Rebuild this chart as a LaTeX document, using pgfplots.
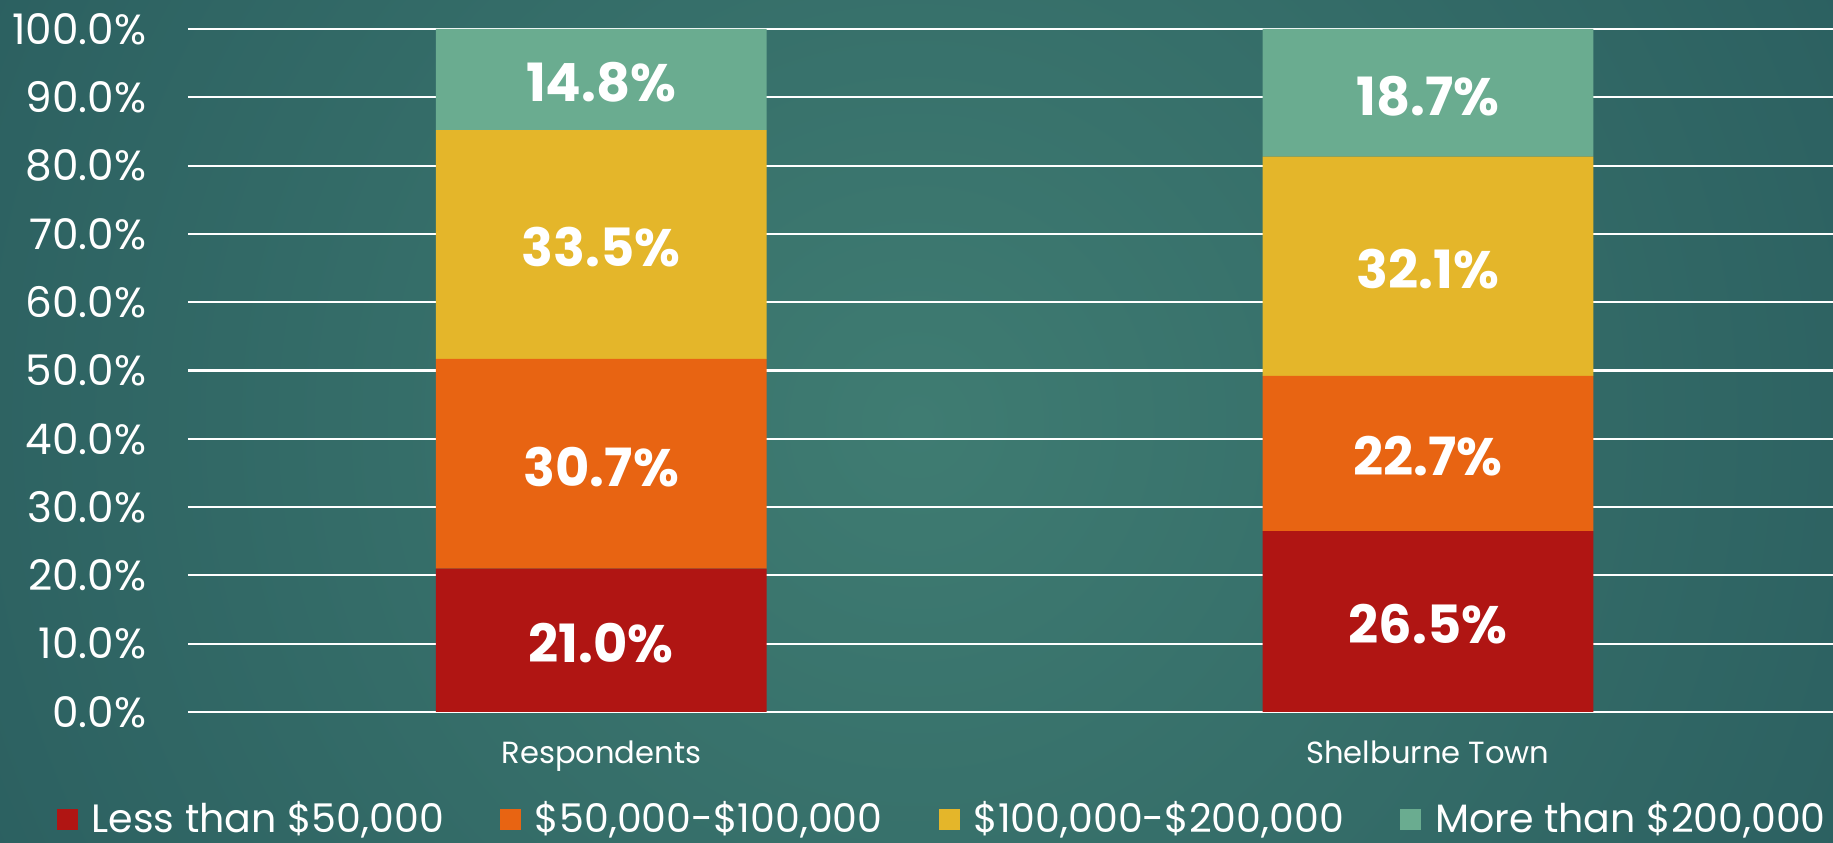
\documentclass[border=0pt]{standalone}
\usepackage{fontspec}
\setmainfont{Poppins}
\usepackage{pgfplots}
\usepackage{pgfplotstable}
\pgfplotsset{compat=1.18}

\definecolor{bgcentre}{HTML}{3F7C72}
\definecolor{bgedge}{HTML}{1E4C54}
\definecolor{lowinc}{HTML}{B01513}
\definecolor{midinc}{HTML}{E86412}
\definecolor{upinc}{HTML}{E4B62A}
\definecolor{topinc}{HTML}{6AAC90}

% income shares (%), one row per group
\pgfplotstableread{
pos lt50 m50 m100 gt200
0 21.0 30.7 33.5 14.8
1 26.5 22.7 32.1 18.7
}\income

\pgfplotsset{
  segment/.style={
    fill=#1, draw=none,
    legend image code/.code={\fill[fill=#1] (0mm,-1.05mm) rectangle (2.1mm,1.05mm); \path (2.8mm,0mm);}
  }
}

\begin{document}
\begin{tikzpicture}
\begin{scope}
  \clip (0,0) rectangle (183.3mm,84.3mm);
  \shade[inner color=bgcentre, outer color=bgedge] (-83.4mm,-133mm) rectangle (266.6mm,217mm);
\end{scope}
\useasboundingbox (0,0) rectangle (183.3mm,84.3mm);
\begin{axis}[
  ybar stacked,
  scale only axis,
  anchor=south west,
  at={(18.8mm,13.1mm)},
  width=164.5mm,
  height=68.3mm,
  xmin=-0.5, xmax=1.49,
  ymin=0, ymax=100,
  enlargelimits=false,
  bar width=0.4,
  axis line style={draw=none},
  major tick length=0pt,
  ymajorgrids=true,
  grid style={white, line width=0.6pt},
  xtick={0,1},
  xticklabels={Respondents, Shelburne Town},
  ytick={0,10,...,100},
  yticklabels={0.0\%,10.0\%,20.0\%,30.0\%,40.0\%,50.0\%,60.0\%,70.0\%,80.0\%,90.0\%,100.0\%},
  yticklabel style={font=\fontsize{12}{12}\selectfont, text=white, anchor=east, inner sep=0pt, xshift=-4.1mm},
  xticklabel style={font=\fontsize{8.7}{8.7}\selectfont, text=white, anchor=base, inner sep=0pt, yshift=-5.2mm},
  point meta=explicit symbolic,
  nodes near coords={\pgfplotspointmeta\%},
  nodes near coords align=center,
  every node near coord/.append style={font=\bfseries\fontsize{15}{15}\selectfont, text=white, anchor=center, yshift=-0.3mm},
  clip=false,
  legend columns=4,
  legend style={
    at={(0.46,-0.157)}, anchor=center,
    draw=none, fill=none, text=white,
    font=\fontsize{11.25}{11.25}\selectfont,
    /tikz/every even column/.append style={column sep=4.9mm}
  },
]
\addplot[segment=lowinc] table[x=pos, y=lt50, meta=lt50] {\income};
\addlegendentry{Less than \$50,000}
\addplot[segment=midinc] table[x=pos, y=m50, meta=m50] {\income};
\addlegendentry{\$50,000-\$100,000}
\addplot[segment=upinc] table[x=pos, y=m100, meta=m100] {\income};
\addlegendentry{\$100,000-\$200,000}
\addplot[segment=topinc] table[x=pos, y=gt200, meta=gt200] {\income};
\addlegendentry{More than \$200,000}
\end{axis}
\end{tikzpicture}
\end{document}
